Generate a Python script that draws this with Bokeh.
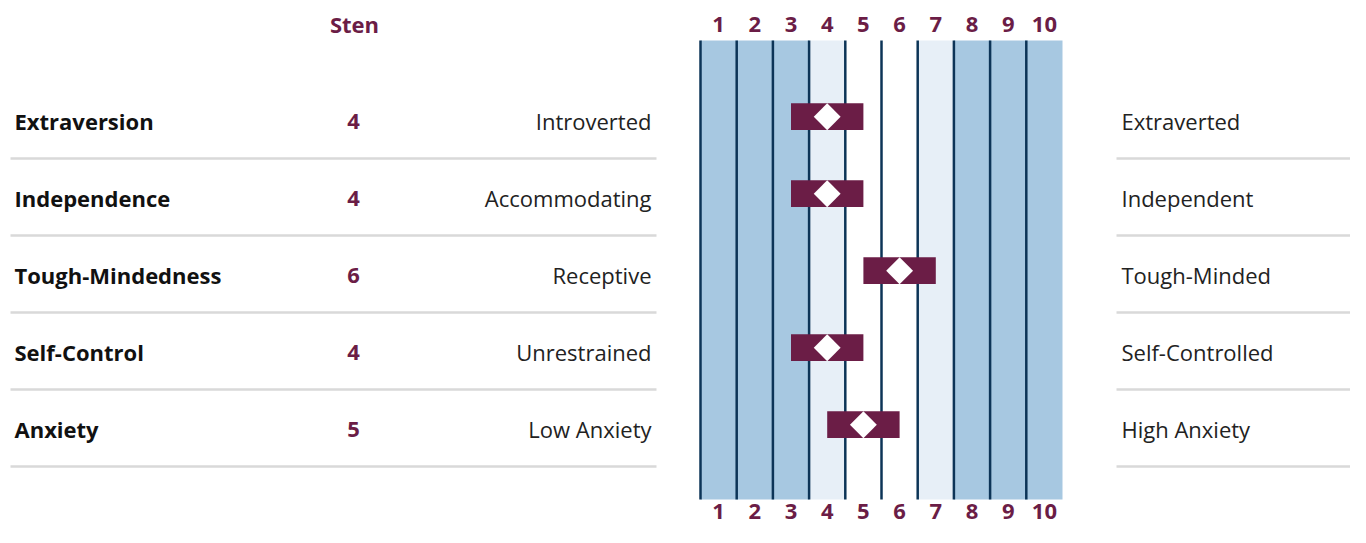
from math import pi
from bokeh.plotting import figure
from bokeh.models import Range1d, ColumnDataSource
from bokeh.core.properties import value
from bokeh.embed import file_html
from bokeh.resources import INLINE

# ---------------- data ----------------
traits = ["Extraversion", "Independence", "Tough-Mindedness", "Self-Control", "Anxiety"]
stens = [4, 4, 6, 4, 5]
left_poles = ["Introverted", "Accommodating", "Receptive", "Unrestrained", "Low Anxiety"]
right_poles = ["Extraverted", "Independent", "Tough-Minded", "Self-Controlled", "High Anxiety"]
sten_scale = [1, 2, 3, 4, 5, 6, 7, 8, 9, 10]
sten_labels = ["1", "2", "3", "4", "5", "6", "7", "8", "9", "10"]
band_kind = ["outer", "outer", "outer", "mid", "centre", "centre", "mid", "outer", "outer", "outer"]

# ---------------- style ----------------
MAROON = "#6b1d46"
NAVY = "#0c3457"
BAND_COLORS = {"outer": "#a7c8e1", "mid": "#e7eff7", "centre": "#ffffff"}
SEP = "#d9d9d9"
FONT = "Open Sans"

W, H = 1350, 527
# layout: pixel -> data helpers
COL_W = 36.2
X0_PX = 700.0     # left edge of sten 1 column
ROW0_PX = 120.5   # centre of first row
ROW_H = 77.0

def dx(px):
    return 0.5 + (px - X0_PX) / COL_W

def dy(py):
    return (py - ROW0_PX) / ROW_H

p = figure(width=W, height=H, output_backend="svg", toolbar_location=None,
           x_range=Range1d(dx(0), dx(W)), y_range=Range1d(dy(H), dy(0)),
           min_border=0, x_axis_location=None, y_axis_location=None,
           outline_line_color=None, background_fill_color="white",
           border_fill_color="white")
p.xgrid.visible = False
p.ygrid.visible = False

rows = list(range(len(traits)))

# column bands
band_top, band_bottom = dy(40), dy(499)
bsrc = ColumnDataSource(dict(
    left=[s - 0.5 for s in sten_scale], right=[s + 0.5 for s in sten_scale],
    color=[BAND_COLORS[k] for k in band_kind]))
p.quad(left="left", right="right", top=band_top, bottom=band_bottom,
       fill_color="color", line_color=None, source=bsrc)

# vertical navy lines at column boundaries (left edge included)
p.segment(x0=[s - 0.5 for s in sten_scale], x1=[s - 0.5 for s in sten_scale],
          y0=band_top, y1=band_bottom, line_color=NAVY, line_width=2.5)

# separators
sep_y = [r + dy(158) for r in rows]
p.segment(x0=dx(10), x1=dx(656), y0=sep_y, y1=sep_y, line_color=SEP, line_width=2.5)
p.segment(x0=dx(1116), x1=dx(1366), y0=sep_y, y1=sep_y, line_color=SEP, line_width=2.5)

# bars and diamonds
bar_off = -4.3 / ROW_H
src = ColumnDataSource(dict(
    y=[r for r in rows], ybar=[r + bar_off for r in rows],
    sten=stens, left=[s - 1 for s in stens], right=[s + 1 for s in stens],
    trait=traits, stxt=[str(s) for s in stens], lp=left_poles, rp=right_poles))
p.hbar(y="ybar", left="left", right="right", height=26.7 / ROW_H,
       fill_color=MAROON, line_color=None, source=src)
p.scatter(x="sten", y="ybar", marker="square", angle=pi / 4, size=19,
          fill_color="white", line_color=None, source=src)

# texts
p.text(x=dx(14), y="y", text="trait", source=src, text_font=value(FONT),
       text_font_size="22px", text_font_style="bold", text_color="#111111",
       text_align="left", text_baseline="middle")
p.text(x=dx(353), y="y", text="stxt", source=src, text_font=value(FONT),
       text_font_size="22px", text_font_style="bold", text_color=MAROON,
       text_align="center", text_baseline="middle")
p.text(x=dx(651), y="y", text="lp", source=src, text_font=value(FONT),
       text_font_size="22px", text_color="#222222",
       text_align="right", text_baseline="middle")
p.text(x=dx(1121), y="y", text="rp", source=src, text_font=value(FONT),
       text_font_size="22px", text_color="#222222",
       text_align="left", text_baseline="middle")

p.text(x=dx(354), y=dy(23), text=["Sten"], text_font=value(FONT),
       text_font_size="22px", text_font_style="bold", text_color=MAROON,
       text_align="center", text_baseline="middle")

p.text(x=sten_scale, y=dy(24), text=sten_labels, text_font=value(FONT),
       text_font_size="22px", text_font_style="bold", text_color=MAROON,
       text_align="center", text_baseline="middle")
p.text(x=sten_scale, y=dy(511), text=sten_labels, text_font=value(FONT),
       text_font_size="22px", text_font_style="bold", text_color=MAROON,
       text_align="center", text_baseline="middle")

open("out.html", "w").write(file_html(p, INLINE))
